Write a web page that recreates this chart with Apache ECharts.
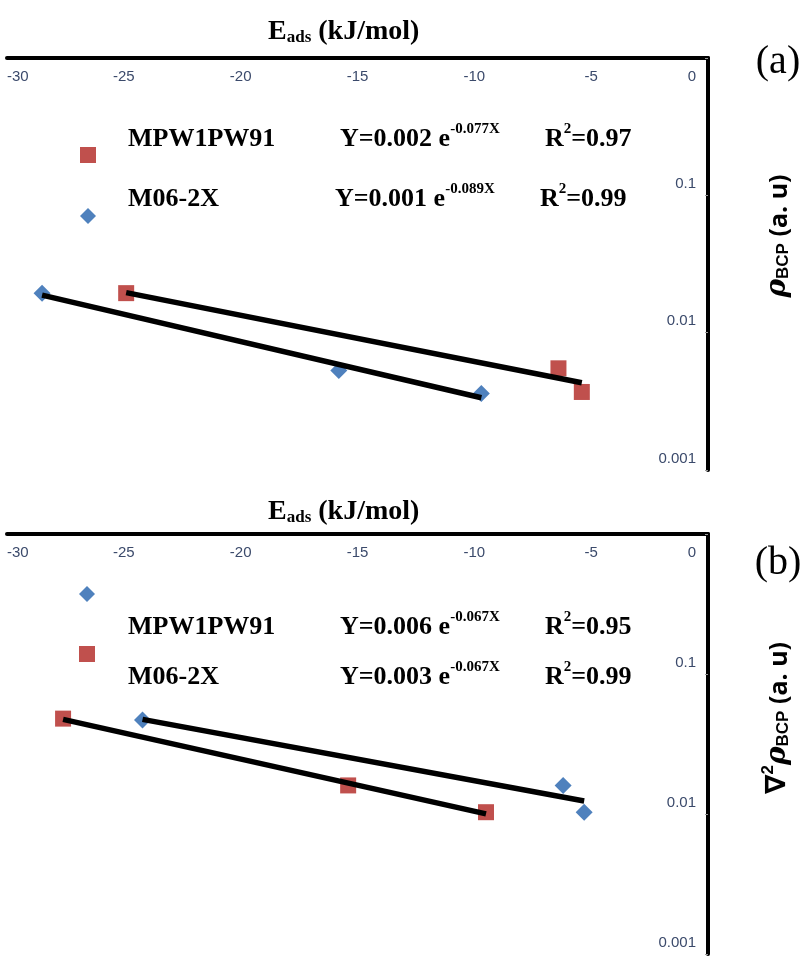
<!DOCTYPE html>
<html>
<head>
<meta charset="utf-8">
<script src="https://cdn.jsdelivr.net/npm/echarts@6/dist/echarts.min.js"></script>
<style>
html,body{margin:0;padding:0;background:#fff}
#main{width:802px;height:956px}
</style>
</head>
<body>
<div id="main"></div>
<script>
// panel (a): rho at BCP vs E_ads
var aRedX = [-24.9, -6.4, -5.4];        // MPW1PW91
var aRedY = [0.0194, 0.0055, 0.0037];
var aBlueX = [-28.5, -15.8, -9.7];      // M06-2X
var aBlueY = [0.0194, 0.0053, 0.0036];
// panel (b): laplacian of rho at BCP vs E_ads
var bBlueX = [-24.2, -6.2, -5.3];       // MPW1PW91
var bBlueY = [0.047, 0.016, 0.0103];
var bRedX = [-27.6, -15.4, -9.5];       // M06-2X
var bRedY = [0.048, 0.016, 0.0103];

var xMin = -30, xMax = 0, xStep = 5;
var yMin = 0.001, yMax = 1;

var RED = '#c0504d', BLUE = '#4f81bd', LABEL = '#3b4a6b';
var SERIF = '"Liberation Serif", "Times New Roman", serif';
var SANS = '"Liberation Sans", Arial, sans-serif';

function pairs(xs, ys){
    return xs.map(function(x, i){ return [x, ys[i]]; });
}

// exponential trendline: least squares on ln(y), over the x range of the data
function expFit(xs, ys){
    var n = xs.length, sx = 0, sy = 0, sxx = 0, sxy = 0;
    for (var i = 0; i < n; i++) {
        var l = Math.log(ys[i]);
        sx += xs[i]; sy += l; sxx += xs[i] * xs[i]; sxy += xs[i] * l;
    }
    var b = (n * sxy - sx * sy) / (n * sxx - sx * sx);
    var a = (sy - b * sx) / n;
    var x0 = Math.min.apply(null, xs), x1 = Math.max.apply(null, xs);
    return [[x0, Math.exp(a + b * x0)], [x1, Math.exp(a + b * x1)]];
}

function xAxisFor(idx){
    return {
        gridIndex: idx, type: 'value', position: 'top',
        min: xMin, max: xMax, interval: xStep,
        axisLine: {show: true, lineStyle: {color: '#000', width: 4}},
        axisTick: {show: false},
        splitLine: {show: false},
        axisLabel: {inside: true, margin: 11, color: LABEL, fontSize: 15, fontFamily: SANS,
                    alignMinLabel: 'left', alignMaxLabel: 'right',
                    formatter: function(v){ return v === 0 ? '{z|0}' : String(v); },
                    rich: {z: {color: LABEL, fontSize: 15, fontFamily: SANS, padding: [0, 12, 0, 0]}}}
    };
}
function yAxisFor(idx){
    return {
        gridIndex: idx, type: 'log', logBase: 10, position: 'right',
        min: yMin, max: yMax,
        axisLine: {show: true, lineStyle: {color: '#000', width: 4}},
        axisTick: {show: true, inside: true, length: 3, lineStyle: {color: '#999'}},
        splitLine: {show: false},
        minorTick: {show: false},
        axisLabel: {
            inside: true, margin: 12, color: LABEL, fontSize: 15, fontFamily: SANS,
            verticalAlign: 'bottom', padding: [0, 0, 4, 0],
            formatter: function(v){ return v >= 1 ? '' : String(parseFloat(v.toPrecision(3))); }
        }
    };
}

function scatter(name, idx, xs, ys, sym, color, size){
    return {
        name: name, type: 'scatter', xAxisIndex: idx, yAxisIndex: idx,
        symbol: sym, symbolSize: size, itemStyle: {color: color, opacity: 1},
        data: pairs(xs, ys), z: 2
    };
}
function trend(idx, xs, ys){
    return {
        type: 'line', xAxisIndex: idx, yAxisIndex: idx, symbol: 'none',
        lineStyle: {color: '#000', width: 5.5}, data: expFit(xs, ys), z: 5, silent: true
    };
}

// rich text styles for the annotations
function richSet(size){
    return {
        b: {fontFamily: SERIF, fontWeight: 'bold', fontSize: size, color: '#000', lineHeight: size + 4, verticalAlign: 'bottom'},
        sup: {fontFamily: SERIF, fontWeight: 'bold', fontSize: 15, color: '#000', lineHeight: size + 4, verticalAlign: 'top', padding: [0, 0, 12, 0]},
        sub: {fontFamily: SERIF, fontWeight: 'bold', fontSize: 17, color: '#000', lineHeight: 17, verticalAlign: 'bottom', padding: [size - 11, 0, 0, 0]}
    };
}
var rich = richSet(26);
var titleRich = richSet(28);
function label(x, y, text, r){
    return {type: 'text', x: x, y: y, style: {text: text, rich: r || rich, verticalAlign: 'middle', align: 'left'}};
}
function legendRow(y, name, eq, pre, r2){
    return [
        label(128, y, '{b|' + name + '}'),
        label(eq, y, '{b|Y=' + pre + ' e}{sup|' + r2[0] + '}'),
        label(eq + 205, y, '{b|R}{sup|2}{b|=' + r2[1] + '}')
    ];
}

var axisNameRich = {
    rho: {fontFamily: '"DejaVu Serif", serif', fontStyle: 'italic', fontWeight: 'bold', fontSize: 28, color: '#000', verticalAlign: 'bottom', lineHeight: 32},
    nab: {fontFamily: '"DejaVu Sans", sans-serif', fontWeight: 'bold', fontSize: 28, color: '#000', verticalAlign: 'bottom', lineHeight: 32},
    sup: {fontFamily: SANS, fontWeight: 'bold', fontSize: 17, color: '#000', verticalAlign: 'top', lineHeight: 32, padding: [0, 0, 12, 0]},
    sub: {fontFamily: SANS, fontWeight: 'bold', fontSize: 17, color: '#000', verticalAlign: 'bottom', lineHeight: 17, padding: [14, 0, 0, 0]},
    t: {fontFamily: '"Open Sans", sans-serif', fontWeight: 'bold', fontSize: 25, color: '#000', verticalAlign: 'bottom', lineHeight: 32}
};

var chart = echarts.init(document.getElementById('main'), null, {renderer: 'canvas'});
chart.setOption({
    animation: false,
    backgroundColor: '#fff',
    grid: [
        {left: 7, top: 58, width: 701, height: 412},
        {left: 7, top: 534, width: 701, height: 420}
    ],
    xAxis: [xAxisFor(0), xAxisFor(1)],
    yAxis: [yAxisFor(0), yAxisFor(1)],
    legend: [
        {data: ['MPW1PW91 (a)', 'M06-2X (a)'], orient: 'vertical', left: 75, top: 142,
         itemWidth: 16, itemHeight: 16, itemGap: 45, selectedMode: false,
         formatter: function(){ return ''; }},
        {data: ['MPW1PW91 (b)', 'M06-2X (b)'], orient: 'vertical', left: 74, top: 581,
         itemWidth: 16, itemHeight: 16, itemGap: 44, selectedMode: false,
         formatter: function(){ return ''; }}
    ],
    series: [
        scatter('MPW1PW91 (a)', 0, aRedX, aRedY, 'rect', RED, 16),
        scatter('M06-2X (a)', 0, aBlueX, aBlueY, 'diamond', BLUE, 17),
        trend(0, aRedX, aRedY),
        trend(0, aBlueX, aBlueY),
        scatter('MPW1PW91 (b)', 1, bBlueX, bBlueY, 'diamond', BLUE, 17),
        scatter('M06-2X (b)', 1, bRedX, bRedY, 'rect', RED, 16),
        trend(1, bBlueX, bBlueY),
        trend(1, bRedX, bRedY)
    ],
    graphic: [
        label(268, 30, '{b|E}{sub|ads}{b| (kJ/mol)}', titleRich),
        label(268, 510, '{b|E}{sub|ads}{b| (kJ/mol)}', titleRich),
        {type: 'text', x: 778, y: 62, style: {text: '(a)', font: '40px ' + SERIF, fill: '#000', align: 'center', verticalAlign: 'middle'}},
        {type: 'text', x: 778, y: 563, style: {text: '(b)', font: '40px ' + SERIF, fill: '#000', align: 'center', verticalAlign: 'middle'}},
        {type: 'text', x: 776, y: 236, rotation: Math.PI / 2,
         style: {text: '{rho|ρ}{sub|BCP}{t| (a. u)}', rich: axisNameRich, align: 'center', verticalAlign: 'middle'}},
        {type: 'text', x: 776, y: 718, rotation: Math.PI / 2,
         style: {text: '{nab|∇}{sup|2}{rho|ρ}{sub|BCP}{t| (a. u)}', rich: axisNameRich, align: 'center', verticalAlign: 'middle'}}
    ].concat(
        legendRow(137, 'MPW1PW91', 340, '0.002', ['-0.077X', '0.97']),
        legendRow(197, 'M06-2X', 335, '0.001', ['-0.089X', '0.99']),
        legendRow(625, 'MPW1PW91', 340, '0.006', ['-0.067X', '0.95']),
        legendRow(675, 'M06-2X', 340, '0.003', ['-0.067X', '0.99'])
    )
});
</script>
</body>
</html>
